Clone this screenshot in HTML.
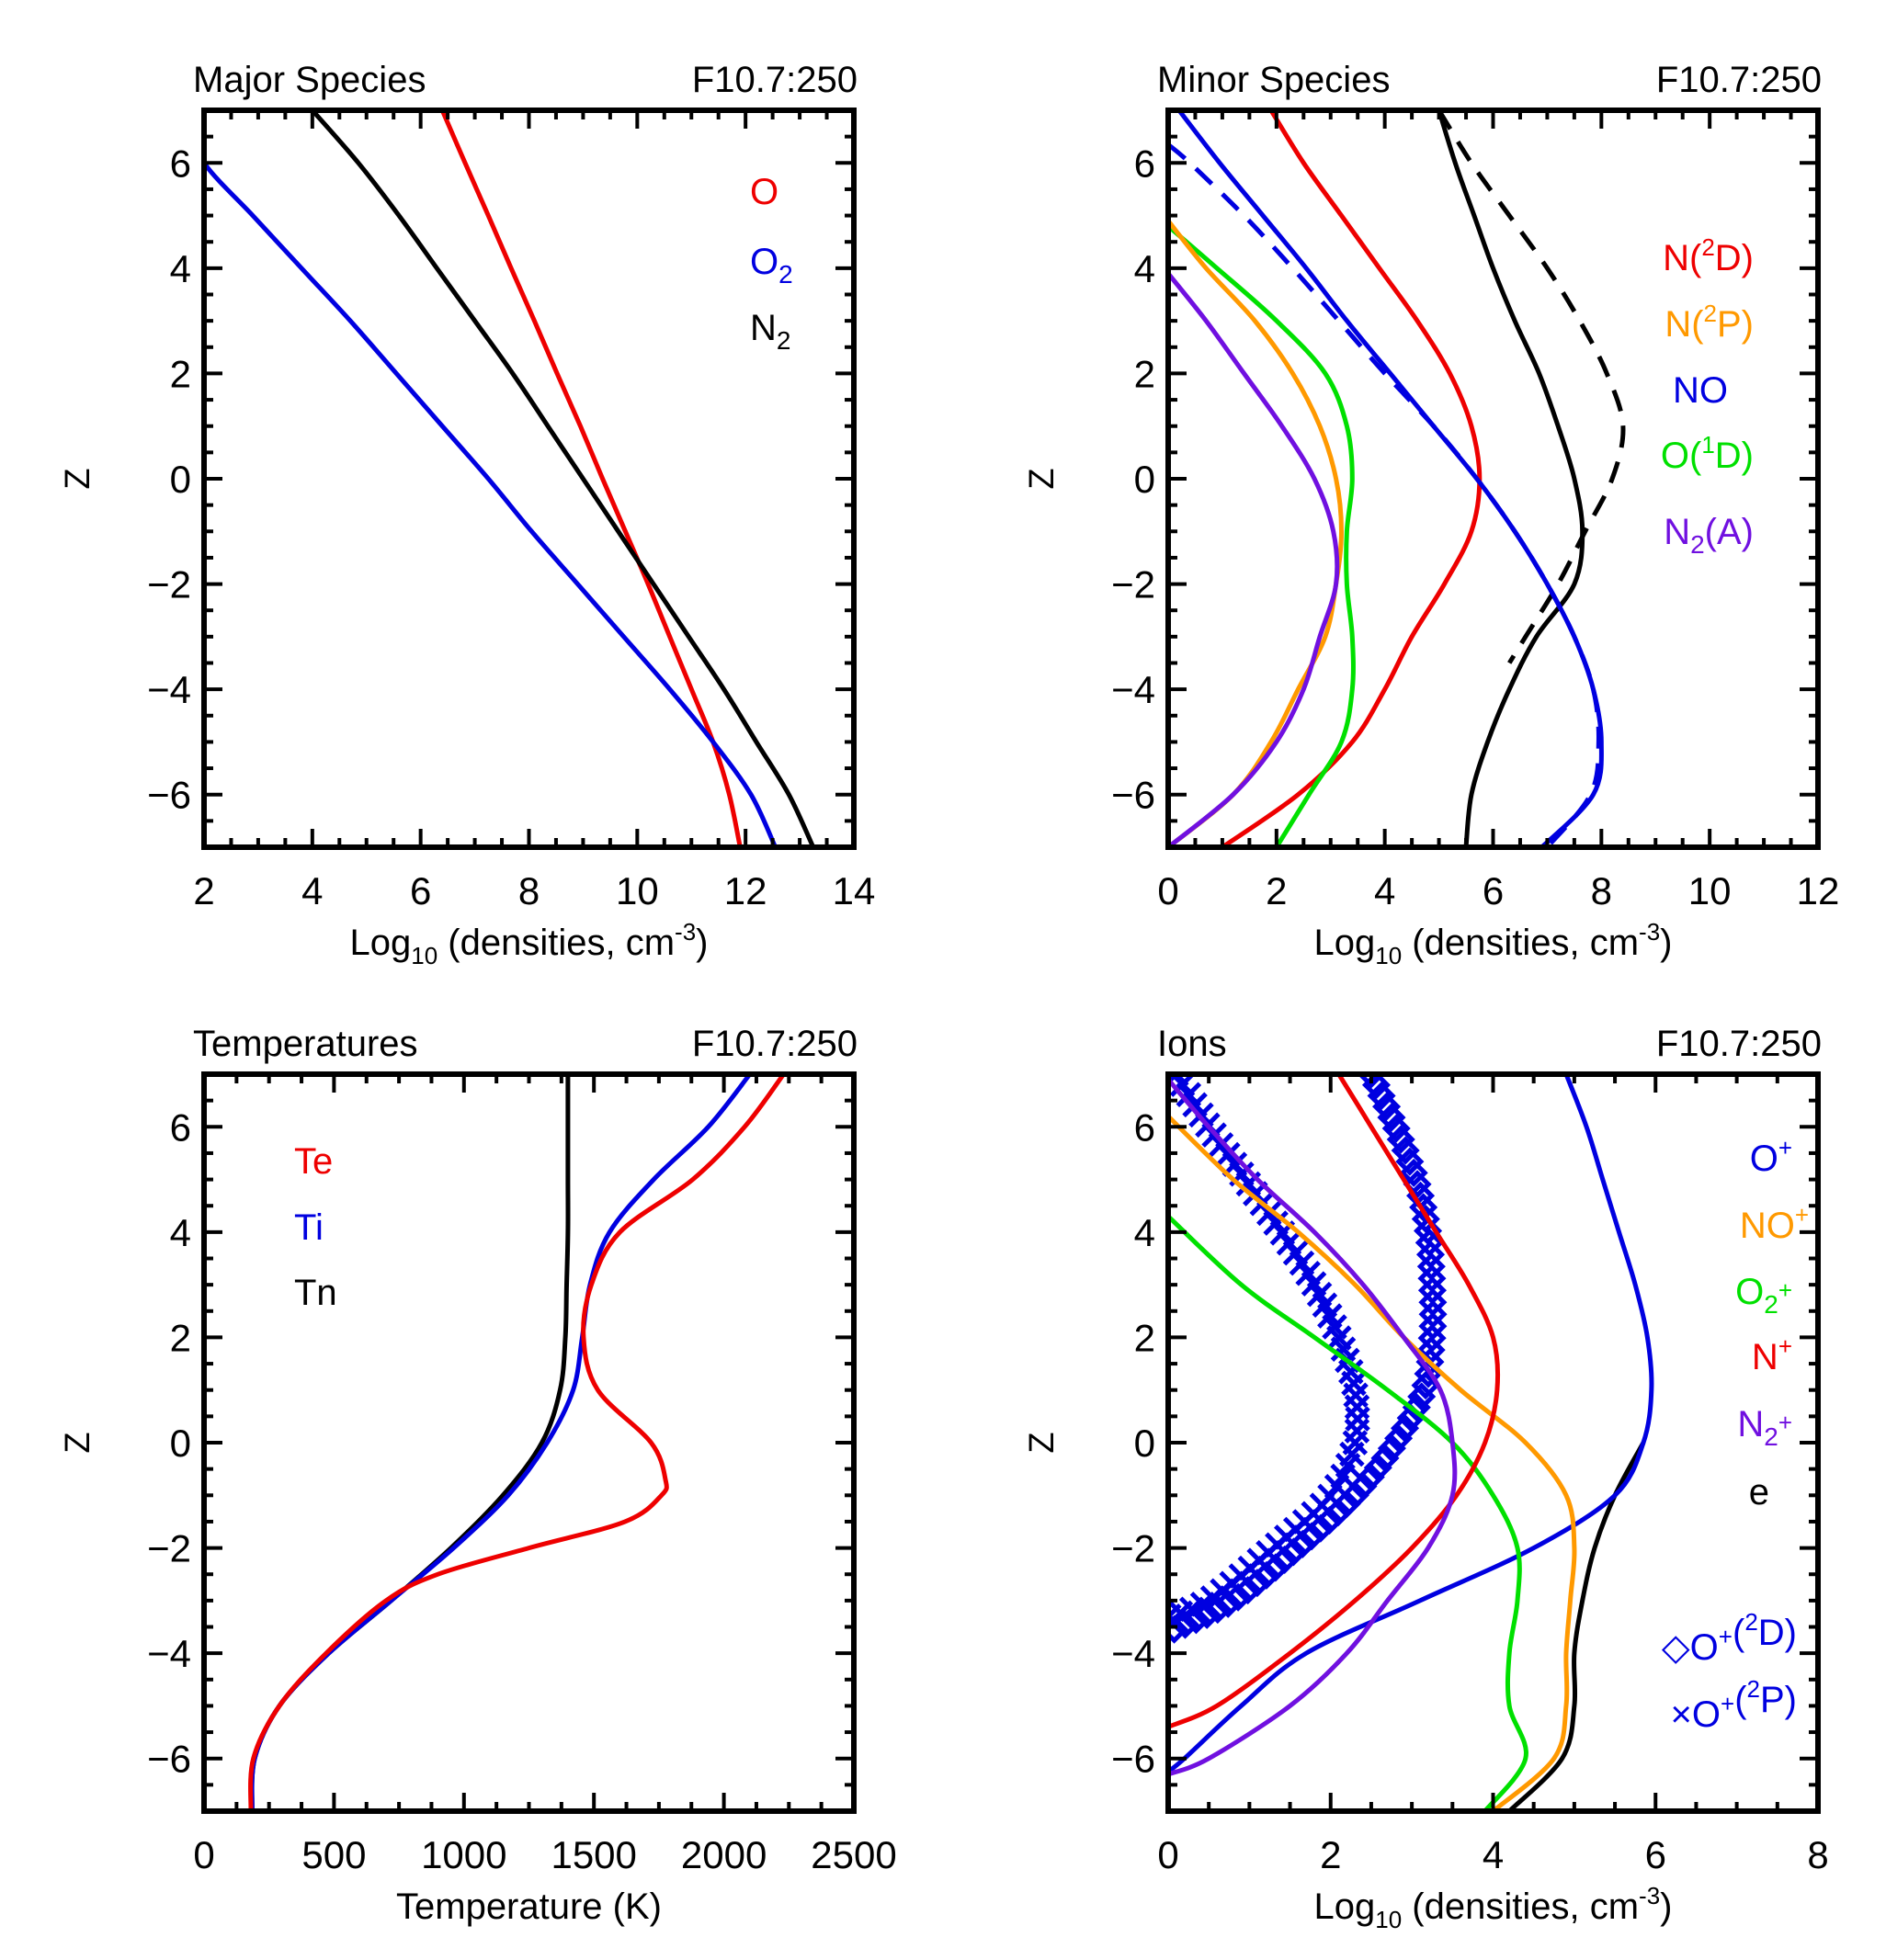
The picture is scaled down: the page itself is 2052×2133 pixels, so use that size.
<!DOCTYPE html>
<html><head><meta charset="utf-8"><style>
html,body{margin:0;padding:0;background:#fff;}
svg{display:block;font-family:"Liberation Sans",sans-serif;}
</style></head><body>
<svg id="fig" width="2052" height="2133" viewBox="0 0 2052 2133" xmlns="http://www.w3.org/2000/svg"></svg>
<script>
// ---------- data ----------
const zGrid = [7,6,5,4,3,2,1,0,-1,-2,-3,-4,-5,-6,-7];
// Panel 1: major species
const majO  = [6.4,6.82,7.25,7.67,8.1,8.52,8.95,9.36,9.78,10.2,10.6,11.0,11.4,11.7,11.9];
const majO2 = [1.5,2.0,2.9,3.8,4.7,5.55,6.4,7.25,8.05,8.9,9.75,10.6,11.4,12.1,12.55];
const majN2 = [4.0,4.85,5.6,6.3,7.0,7.7,8.35,9.0,9.65,10.3,10.95,11.6,12.2,12.8,13.25];
// Panel 2: minor species
const minN2D = [1.9,2.5,3.2,3.9,4.6,5.2,5.6,5.75,5.6,5.1,4.5,4.0,3.4,2.4,1.0];
const minNO  = [0.2,0.95,1.75,2.55,3.3,4.1,4.9,5.7,6.4,7.0,7.5,7.85,8.0,7.85,6.9];
const minNOdZ = [6.35,6,5,4,3,2,1,0,-1,-2,-3,-4,-5,-6,-7];
const minNOd = [0,0.4,1.4,2.3,3.15,4.0,4.9,5.7,6.4,7.0,7.5,7.85,7.95,7.8,7.0];
const minN2PZ = [4.9,4,3,2,1,0,-1,-2,-3,-4,-5,-6,-7];
const minN2P = [0,0.7,1.6,2.3,2.8,3.1,3.2,3.1,2.9,2.4,1.9,1.2,0];
const minO1DZ = [4.8,4,3,2,1,0,-1,-2,-3,-4,-5,-6,-7];
const minO1D = [0,0.9,2.0,2.9,3.3,3.4,3.3,3.3,3.4,3.4,3.2,2.6,2.0];
const minN2AZ = [3.9,3,2,1,0,-1,-2,-3,-4,-5,-6,-7];
const minN2A = [0,0.7,1.4,2.1,2.7,3.05,3.1,2.8,2.5,2.0,1.2,0];
const minN4S = [5.0,5.3,5.65,6.0,6.4,6.85,7.2,7.5,7.65,7.5,6.8,6.3,5.9,5.6,5.5];
const minN4SdZ = [7,6,5,4,3,2,1,0,-1,-2,-3,-3.5];
const minN4Sd = [5.0,5.6,6.3,7.0,7.6,8.1,8.4,8.2,7.7,7.2,6.6,6.3];
// Panel 3: temperatures
const tZ = [7,6,5,4,3,2,1,0,-1,-2,-3,-4,-5,-6,-7];
const tTn = [1400,1400,1400,1400,1395,1390,1370,1300,1150,950,720,480,290,195,185];
const tTi = [2100,1940,1730,1560,1485,1455,1420,1320,1170,960,720,480,290,195,185];
const tTeZ = [7,6,5,4,3,2,1,0,-0.7,-1,-1.5,-2,-2.5,-3,-4,-5,-6,-7];
const tTe = [2230,2080,1880,1600,1490,1460,1515,1720,1775,1760,1620,1250,900,700,470,290,190,180];
// Panel 4: ions
const ionOpZ = [7,6,5,4,3,2,1,0,-1,-2,-3,-4,-5,-6,-6.25];
const ionOp  = [4.9,5.15,5.35,5.55,5.75,5.9,5.95,5.85,5.5,4.5,3.1,1.7,0.9,0.2,0];
const ionNOpZ = [6.2,5,4,3,2,1,0,-1,-2,-3,-4,-5,-6,-7];
const ionNOp  = [0,0.8,1.6,2.3,2.9,3.6,4.4,4.9,5.0,4.95,4.9,4.9,4.75,4.0];
const ionO2pZ = [4.3,3,2,1,0,-1,-2,-3,-4,-5,-6,-7];
const ionO2p  = [0,0.9,1.8,2.7,3.5,4.0,4.3,4.3,4.2,4.2,4.4,3.9];
const ionNpZ = [7,6,5,4,3,2,1,0,-1,-2,-3,-4,-5,-5.4];
const ionNp  = [2.1,2.5,2.9,3.3,3.7,4.0,4.05,3.9,3.55,3.0,2.3,1.5,0.6,0];
const ionN2pZ = [6.9,6,5,4,3,2,1,0,-1,-2,-3,-4,-5,-6,-6.3];
const ionN2p  = [0,0.5,1.1,1.8,2.4,2.9,3.35,3.5,3.5,3.2,2.7,2.2,1.5,0.5,0];
const ionEZ = [0,-1,-2,-3,-4,-5,-6,-7];
const ionE  = [5.85,5.5,5.25,5.1,5.0,5.0,4.85,4.2];
const ion2DZ = [7,6,5,4,3,2,1,0,-1,-2,-3,-3.6];
const ion2D  = [2.5,2.8,3.05,3.2,3.25,3.25,3.15,2.8,2.3,1.6,0.8,0];
const ion2PZ = [7,6,5,4,3,2,1,0,-1,-2,-3,-3.3];
const ion2P  = [0.1,0.5,0.95,1.4,1.8,2.1,2.3,2.3,2.0,1.3,0.5,0];

const xTicksMaj = ['2','4','6','8','10','12','14'];
const xTicksMin = ['0','2','4','6','8','10','12'];
const xTicksTemp = ['0','500','1000','1500','2000','2500'];
const xTicksIon = ['0','2','4','6','8'];
const zTicks = ['6','4','2','0','-2','-4','-6'];

// ---------- drawing ----------
const NS='http://www.w3.org/2000/svg';
const svg=document.getElementById('fig');
const RED='#ee0000',BLUE='#0000e0',GREEN='#00e000',ORANGE='#ff9900',PURPLE='#7010e0',BLACK='#000';
function mk(tag,attrs,parent){const e=document.createElementNS(NS,tag);for(const k in attrs)e.setAttribute(k,attrs[k]);(parent||svg).appendChild(e);return e;}

function panel(name,L,T,W,H,xmin,xmax,xticks,xminor,title,xtitleHTML){
  const g=mk('g',{});
  
  
  const sx=v=>L+(v-xmin)/(xmax-xmin)*W;
  const sy=z=>T+(7-z)/14*H;
  const clipId=name+'-clip';
  const cp=mk('clipPath',{id:clipId},g);mk('rect',{x:L,y:T,width:W,height:H},cp);
  const plot=mk('g',{'clip-path':'url(#'+clipId+')'},g);
  
  
  const tk=mk('g',{stroke:'#000','stroke-width':4},g);
  
  
  const nx=xticks.length-1;
  for(let i=0;i<=nx*4;i++){
    const v=xmin+(xmax-xmin)*i/(nx*4);const x=sx(v);const len=i%4==0?20:10;
    mk('line',{x1:x,y1:T+H,x2:x,y2:T+H-len},tk);mk('line',{x1:x,y1:T,x2:x,y2:T+len},tk);
  }
  for(let z=-7;z<=7.001;z+=0.5){
    const y=sy(z);const len=(Math.abs(z%2)<0.01)?20:10;
    mk('line',{x1:L,y1:y,x2:L+len,y2:y},tk);mk('line',{x1:L+W,y1:y,x2:L+W-len,y2:y},tk);
  }
  const fr=mk('rect',{x:L,y:T,width:W,height:H,fill:'none',stroke:'#000','stroke-width':6},g);
  
  
  xticks.forEach((t,i)=>{
    const v=xmin+(xmax-xmin)*i/nx;
    const te=mk('text',{x:sx(v),y:T+H+62,'font-size':42,'text-anchor':'middle'},g);te.textContent=t;
    
    
  });
  zTicks.forEach(t=>{
    const te=mk('text',{x:L-14,y:sy(+t)+15,'font-size':42,'text-anchor':'end'},g);te.textContent=t.replace('-','\u2212');
    
    
  });
  const zt=mk('text',{x:0,y:0,'font-size':38,'text-anchor':'middle',transform:`translate(${L-125},${sy(0)}) rotate(-90)`},g);zt.textContent='Z';
  
  
  const tl=mk('text',{x:L-12,y:T-20,'font-size':40},g);tl.textContent=title;
  
  
  const tr=mk('text',{x:L+W+4,y:T-20,'font-size':40,'text-anchor':'end'},g);tr.textContent='F10.7:250';
  
  
  const xt=mk('text',{x:L+W/2,y:T+H+117,'font-size':40,'text-anchor':'middle'},g);xt.innerHTML=xtitleHTML;
  
  
  return {g,plot,sx,sy,L,T,W,H};
}
function pathD(P,xs,zs){
  const pts=xs.map((v,i)=>[P.sx(v),P.sy(zs[i])]);
  let d='M'+pts[0][0].toFixed(1)+','+pts[0][1].toFixed(1);
  for(let i=0;i<pts.length-1;i++){
    const p0=pts[Math.max(0,i-1)],p1=pts[i],p2=pts[i+1],p3=pts[Math.min(pts.length-1,i+2)];
    const c1=[p1[0]+(p2[0]-p0[0])/6,p1[1]+(p2[1]-p0[1])/6];
    const c2=[p2[0]-(p3[0]-p1[0])/6,p2[1]-(p3[1]-p1[1])/6];
    d+=`C${c1[0].toFixed(1)},${c1[1].toFixed(1)} ${c2[0].toFixed(1)},${c2[1].toFixed(1)} ${p2[0].toFixed(1)},${p2[1].toFixed(1)}`;
  }
  return d;
}
function line(P,xs,zs,color,nm,dash){
  const p=mk('path',{d:pathD(P,xs,zs),fill:'none',stroke:color,'stroke-width':5,'stroke-linejoin':'round'},P.plot);
  if(dash)p.setAttribute('stroke-dasharray',dash);
  
  
  return p;
}
function markers(P,xs,zs,color,nm,kind){
  const p=mk('path',{d:pathD(P,xs,zs),fill:'none',stroke:'none'},P.plot);
  const len=p.getTotalLength();const g=mk('g',{stroke:color,'stroke-width':5,fill:'none'},P.plot);
  
  
  const step=13;
  for(let s=0;s<=len;s+=step){
    const q=p.getPointAtLength(s);const r=12;
    if(kind==='d'){
      const m=mk('path',{d:`M${q.x-r},${q.y}L${q.x},${q.y-r}L${q.x+r},${q.y}L${q.x},${q.y+r}Z`},g);
      
      
    } else {
      const m=mk('path',{d:`M${q.x-r},${q.y-r}L${q.x+r},${q.y+r}M${q.x+r},${q.y-r}L${q.x-r},${q.y+r}`},g);
      
      
    }
  }
}
function label(P,x,y,html,color,nm,anchor){
  const t=mk('text',{x:x,y:y,'font-size':40,fill:color,'text-anchor':anchor||'start'},P.g);
  t.innerHTML=html;
  
  
}
const dens='Log<tspan font-size="26" dy="10">10</tspan><tspan dy="-10"> (densities, cm</tspan><tspan font-size="26" dy="-16">-3</tspan><tspan dy="16">)</tspan>';
const sub=s=>`<tspan font-size="28" dy="10">${s}</tspan><tspan dy="-10">`;
const sup=s=>`<tspan font-size="26" dy="-16">${s}</tspan><tspan dy="16">`;

const L1=222,L2=1271,W=707,T1=120,T2=1169,H=802;
const P1=panel('major-species',L1,T1,W,H,2,14,xTicksMaj,4,'Major Species',dens);
line(P1,majO,zGrid,RED,'line-O');line(P1,majO2,zGrid,BLUE,'line-O2');line(P1,majN2,zGrid,BLACK,'line-N2');
label(P1,816,222,'O',RED,'legend-O');
label(P1,816,298,'O'+sub('2')+'</tspan>',BLUE,'legend-O2');
label(P1,816,370,'N'+sub('2')+'</tspan>',BLACK,'legend-N2');
const P2=panel('minor-species',L2,T1,W,H,0,12,xTicksMin,4,'Minor Species',dens);
line(P2,minN4S,zGrid,BLACK,'line-N4S');line(P2,minN4Sd,minN4SdZ,BLACK,'line-N4S-dashed','24,16');
line(P2,minNOd,minNOdZ,BLUE,'line-NO-dashed','24,16');
line(P2,minN2D,zGrid,RED,'line-N2D');line(P2,minNO,zGrid,BLUE,'line-NO');
line(P2,minO1D,minO1DZ,GREEN,'line-O1D');line(P2,minN2P,minN2PZ,ORANGE,'line-N2P');line(P2,minN2A,minN2AZ,PURPLE,'line-N2A');
label(P2,1908,294,'N('+sup('2')+'D)</tspan>',RED,'legend-N2D','end');
label(P2,1908,366,'N('+sup('2')+'P)</tspan>',ORANGE,'legend-N2P','end');
label(P2,1880,438,'NO',BLUE,'legend-NO','end');
label(P2,1908,509,'O('+sup('1')+'D)</tspan>',GREEN,'legend-O1D','end');
label(P2,1908,592,'N'+sub('2')+'(A)</tspan>',PURPLE,'legend-N2A','end');
const P3=panel('temperatures',L1,T2,W,H,0,2500,xTicksTemp,4,'Temperatures','Temperature (K)');
line(P3,tTn,tZ,BLACK,'line-Tn');line(P3,tTi,tZ,BLUE,'line-Ti');line(P3,tTe,tTeZ,RED,'line-Te');
label(P3,320,1277,'Te',RED,'legend-Te');label(P3,320,1349,'Ti',BLUE,'legend-Ti');label(P3,320,1420,'Tn',BLACK,'legend-Tn');
const P4=panel('ions',L2,T2,W,H,0,8,xTicksIon,4,'Ions',dens);
markers(P4,ion2P,ion2PZ,BLUE,'markers-O+2P','x');
markers(P4,ion2D,ion2DZ,BLUE,'markers-O+2D','d');
line(P4,ionE,ionEZ,BLACK,'line-e');line(P4,ionOp,ionOpZ,BLUE,'line-O+');
line(P4,ionNOp,ionNOpZ,ORANGE,'line-NO+');line(P4,ionO2p,ionO2pZ,GREEN,'line-O2+');
line(P4,ionNp,ionNpZ,RED,'line-N+');line(P4,ionN2p,ionN2pZ,PURPLE,'line-N2+');
label(P4,1950,1274,'O'+sup('+')+'</tspan>',BLUE,'legend-O+','end');
label(P4,1968,1347,'NO'+sup('+')+'</tspan>',ORANGE,'legend-NO+','end');
label(P4,1950,1419,'O'+sub('2')+'</tspan>'+sup('+')+'</tspan>',GREEN,'legend-O2+','end');
label(P4,1950,1490,'N'+sup('+')+'</tspan>',RED,'legend-N+','end');
label(P4,1950,1563,'N'+sub('2')+'</tspan>'+sup('+')+'</tspan>',PURPLE,'legend-N2+','end');
label(P4,1925,1637,'e',BLACK,'legend-e','end');
label(P4,1955,1806,'\u25C7O'+sup('+')+'</tspan>('+sup('2')+'D)</tspan>',BLUE,'legend-O+2D','end');
label(P4,1955,1879,'\u00D7O'+sup('+')+'</tspan>('+sup('2')+'P)</tspan>',BLUE,'legend-O+2P','end');
</script>
</body></html>
